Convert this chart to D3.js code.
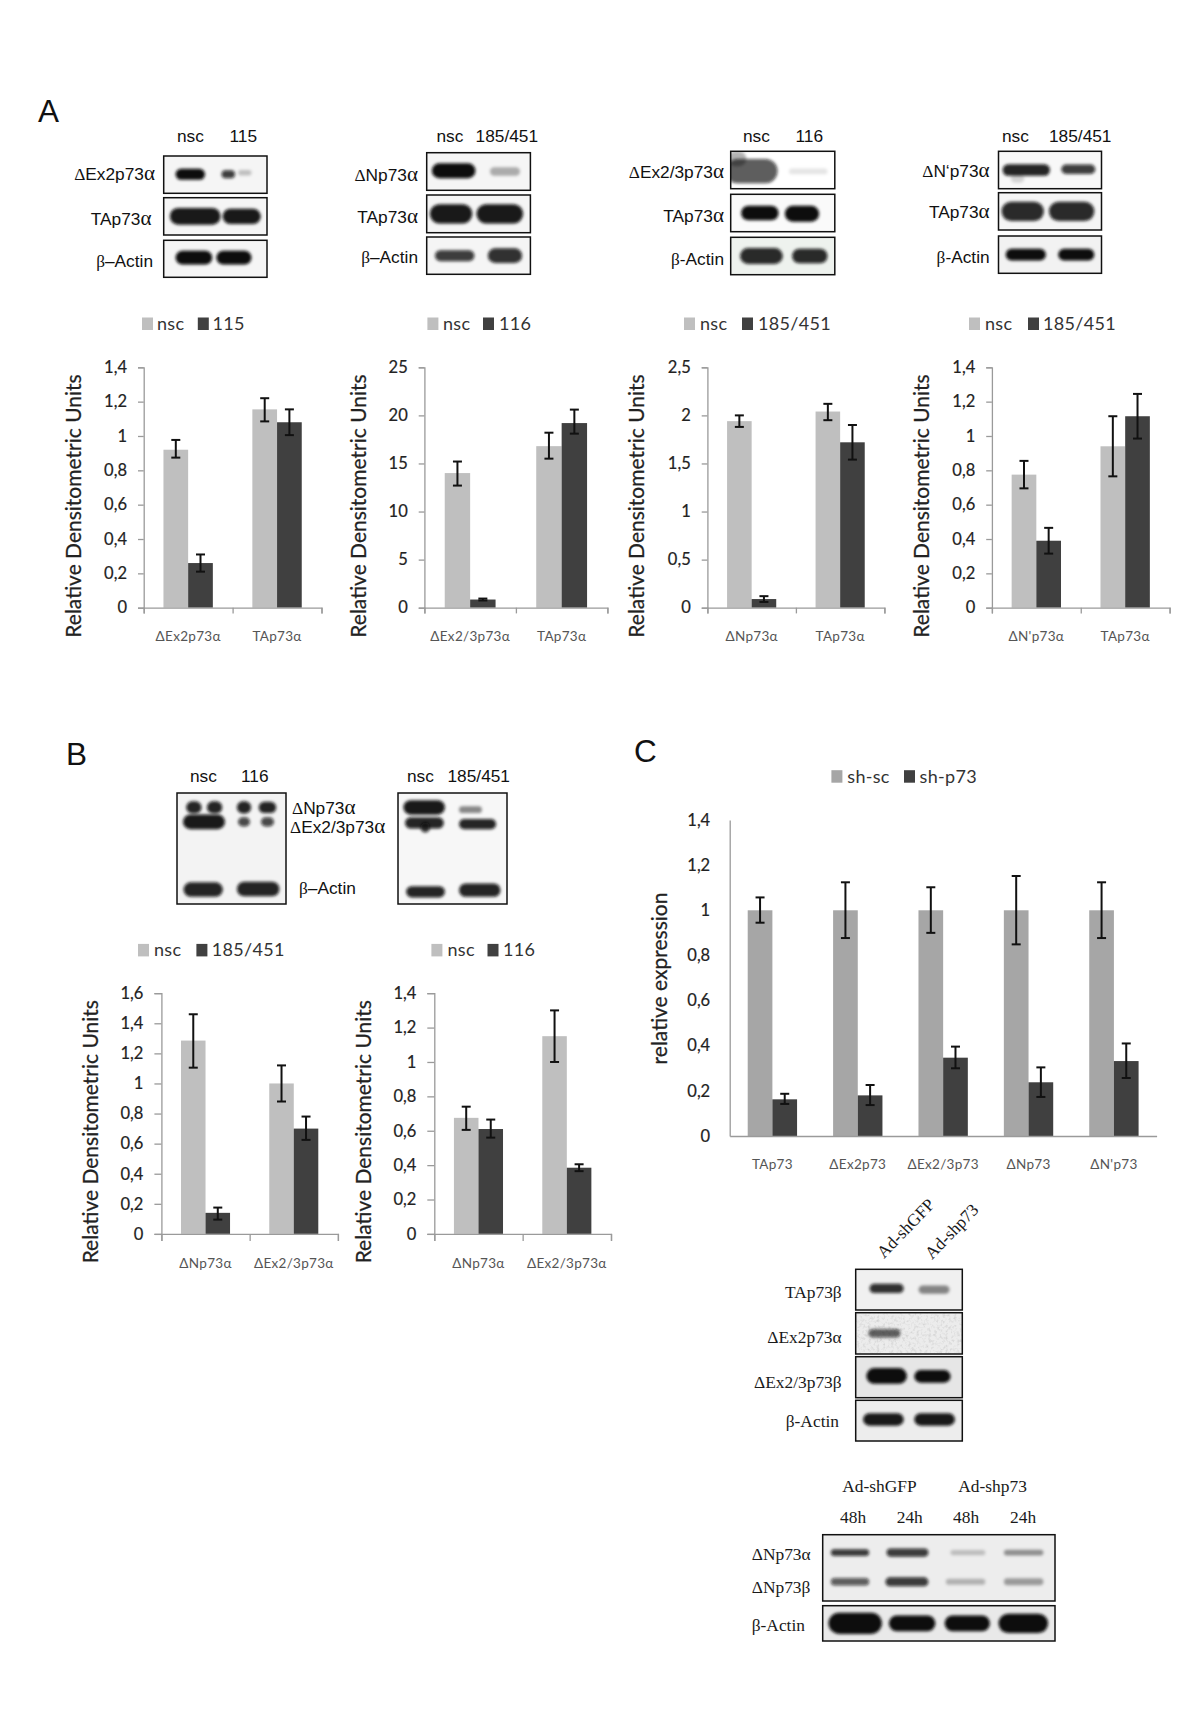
<!DOCTYPE html>
<html><head><meta charset="utf-8">
<script src="https://cdn.jsdelivr.net/npm/d3@7"></script>
<style>html,body{margin:0;padding:0;background:#fff}svg{display:block}</style>
</head><body><svg id="fig" width="1200" height="1734"></svg>
<script>
// ---------- chart data ----------
const a1Cats=["ΔEx2p73α","TAp73α"], a1Nsc=[0.92,1.155], a1Kd=[0.26,1.08];
const a1NscHi=[0.977,1.22], a1NscLo=[0.874,1.085], a1KdHi=[0.31,1.155], a1KdLo=[0.21,1.005];
const a2Cats=["ΔEx2/3p73α","TAp73α"], a2Nsc=[14,16.8], a2Kd=[0.85,19.2];
const a2NscHi=[15.2,18.2], a2NscLo=[12.7,15.5], a2KdHi=[0.95,20.6], a2KdLo=[0.75,18.1];
const a3Cats=["ΔNp73α","TAp73α"], a3Nsc=[1.94,2.04], a3Kd=[0.09,1.72];
const a3NscHi=[2.0,2.12], a3NscLo=[1.88,1.95], a3KdHi=[0.12,1.9], a3KdLo=[0.06,1.54];
const a4Cats=["ΔN'p73α","TAp73α"], a4Nsc=[0.775,0.94], a4Kd=[0.39,1.115];
const a4NscHi=[0.855,1.115], a4NscLo=[0.695,0.765], a4KdHi=[0.465,1.245], a4KdLo=[0.315,0.985];
const b1Cats=["ΔNp73α","ΔEx2/3p73α"], b1Nsc=[1.285,1.0], b1Kd=[0.14,0.70];
const b1NscHi=[1.46,1.12], b1NscLo=[1.105,0.88], b1KdHi=[0.175,0.78], b1KdLo=[0.095,0.625];
const b2Cats=["ΔNp73α","ΔEx2/3p73α"], b2Nsc=[0.675,1.15], b2Kd=[0.61,0.385];
const b2NscHi=[0.74,1.3], b2NscLo=[0.605,1.0], b2KdHi=[0.665,0.405], b2KdLo=[0.56,0.365];
const cCats=["TAp73","ΔEx2p73","ΔEx2/3p73","ΔNp73","ΔN'p73"];
const cSc=[1,1,1,1,1], cSh=[0.1625,0.18,0.347,0.238,0.332];
const cScHi=[1.057,1.124,1.102,1.152,1.124], cScLo=[0.945,0.877,0.90,0.849,0.877];
const cShHi=[0.187,0.226,0.396,0.304,0.41], cShLo=[0.142,0.137,0.30,0.173,0.257];
const ticks14=[0,0.2,0.4,0.6,0.8,1,1.2,1.4], ticks25=[0,5,10,15,20,25], ticks2p5=[0,0.5,1,1.5,2,2.5], ticks16=[0,0.2,0.4,0.6,0.8,1,1.2,1.4,1.6];

// ---------- page layout ----------
const svg=d3.select("#fig");
const LIGHT="#bfbfbf", DARK="#404040", AXIS="#9a9a9a";
const CAL="Lato, 'Open Sans', sans-serif", ARIAL="'Liberation Sans', Arial, sans-serif", TIMES="'Liberation Serif', serif";

// blur filters
const defs=svg.append("defs");
defs.append("filter").attr("id","soft").attr("x","-30%").attr("y","-120%").attr("width","160%").attr("height","340%")
  .append("feGaussianBlur").attr("stdDeviation",1.8);
const speck=defs.append("filter").attr("id","speck").attr("x",0).attr("y",0).attr("width","100%").attr("height","100%");
speck.append("feTurbulence").attr("type","fractalNoise").attr("baseFrequency",0.35).attr("numOctaves",2).attr("seed",4);
speck.append("feColorMatrix").attr("type","matrix").attr("values","0 0 0 0 0.35  0 0 0 0 0.35  0 0 0 0 0.35  1.6 0 0 0 -0.75");

// text helper: Greek letters set in a serif face as in the original labels
function label(g,txt,x,y,o={}){
  const t=g.append("text").attr("x",x).attr("y",y).attr("font-family",o.font||ARIAL).attr("font-size",o.size||17.3)
    .attr("fill",o.fill||"#111").attr("text-anchor",o.anchor||"start");
  if(o.transform)t.attr("transform",o.transform);
  if(o.greek===false){t.text(txt);return t;}
  txt.split(/([Δαβ])/).filter(s=>s).forEach(s=>{
    const ts=t.append("tspan").text(s);
    if(/[Δαβ]/.test(s))ts.attr("font-family",TIMES);
    if(!o.font&&s==="α")ts.attr("font-size","1.22em");
  });
  return t;
}

function barChart(cfg){
  const g=svg.append("g");
  const x=d3.scaleBand().domain(cfg.cats).range([cfg.x0,cfg.x1]);
  const sub=d3.scaleBand().domain(["a","b"]).range([0,x.bandwidth()]).paddingInner(0).paddingOuter(cfg.gap/2);
  const y=d3.scaleLinear().domain([0,cfg.max]).range([cfg.y0,cfg.y1]);
  const series=[
    {k:"a",v:cfg.a,hi:cfg.aHi,lo:cfg.aLo,c:cfg.light||LIGHT},
    {k:"b",v:cfg.b,hi:cfg.bHi,lo:cfg.bLo,c:DARK}];
  series.forEach(s=>{
    g.append("g").selectAll("rect").data(cfg.cats).join("rect")
      .attr("x",d=>x(d)+sub(s.k)).attr("width",sub.bandwidth())
      .attr("y",(d,i)=>y(s.v[i])).attr("height",(d,i)=>y(0)-y(s.v[i])).attr("fill",s.c);
  });
  // axes
  const ya=g.append("g").attr("transform",`translate(${cfg.x0},0)`)
    .call(d3.axisLeft(y).tickValues(cfg.ticks).tickSize(cfg.tick).tickPadding(cfg.pad).tickFormat(d=>String(d).replace(".",",")));
  ya.selectAll("path,line").attr("stroke",AXIS).attr("stroke-width",1.3);
  ya.selectAll("text").attr("font-family",CAL).attr("font-size",16.5).attr("fill","#222").attr("stroke","#222").attr("stroke-width",0.2);
  const slots=d3.scaleLinear().domain([0,cfg.cats.length]).range([cfg.x0,cfg.x1]);
  const xt=g.append("g").attr("transform",`translate(0,${cfg.y0})`)
    .call(d3.axisBottom(slots).tickValues(d3.range(cfg.cats.length+1)).tickSize(cfg.tick).tickSizeOuter(cfg.tick).tickFormat(""));
  xt.selectAll("path,line").attr("stroke",AXIS).attr("stroke-width",1.3);
  const xl=g.append("g").attr("transform",`translate(0,${cfg.labelY})`)
    .call(d3.axisBottom(x).tickSize(0).tickPadding(0));
  xl.select("path").remove();
  xl.selectAll("text").attr("font-family",CAL).attr("font-size",13.5).attr("fill","#555").attr("letter-spacing",0.3).attr("dy",0).attr("y",0);
  // error bars
  series.forEach(s=>{
    const cx=d=>x(d)+sub(s.k)+sub.bandwidth()/2;
    const eb=g.append("g").attr("stroke","#111").attr("stroke-width",2);
    eb.selectAll(".v").data(cfg.cats).join("line").attr("class","v").attr("x1",cx).attr("x2",cx).attr("y1",(d,i)=>y(s.hi[i])).attr("y2",(d,i)=>y(s.lo[i]));
    ["hi","lo"].forEach(k=>eb.selectAll("."+k).data(cfg.cats).join("line").attr("class",k)
      .attr("x1",d=>cx(d)-4.5).attr("x2",d=>cx(d)+4.5).attr("y1",(d,i)=>y(s[k][i])).attr("y2",(d,i)=>y(s[k][i])));
  });
  // title
  g.append("text").attr("transform",`translate(${cfg.titleX},${cfg.titleY}) rotate(-90)`).attr("text-anchor","middle")
    .attr("font-family",CAL).attr("font-size",cfg.titleSize||21).attr("fill","#222").attr("stroke","#222").attr("stroke-width",0.25).text(cfg.title);
  // legend
  const lg=g.append("g").attr("font-family",CAL).attr("font-size",18).attr("fill","#333");
  cfg.legend.forEach(it=>{
    lg.append("rect").attr("x",it.sx).attr("y",cfg.legY-12.5).attr("width",11).attr("height",12.5).attr("fill",it.c);
    lg.append("text").attr("x",it.tx).attr("y",cfg.legY).attr("letter-spacing",0.3).text(it.t);
  });
}

const RDU="Relative Densitometric Units";
const legend=(s1,t1,s2,t2,name,lab0,c)=>[{sx:s1,tx:t1,t:lab0||"nsc",c:c||LIGHT},{sx:s2,tx:t2,t:name,c:DARK}];
const A={y0:607.7,y1:367.3,labelY:641,legY:330,titleY:506,title:RDU,tick:5.7,pad:11,gap:1.6};
barChart({...A,cats:a1Cats,a:a1Nsc,b:a1Kd,aHi:a1NscHi,aLo:a1NscLo,bHi:a1KdHi,bLo:a1KdLo,max:1.4,ticks:ticks14,x0:143.7,x1:321.5,titleX:81,legend:legend(142,157,197.8,212.6,"115")});
barChart({...A,cats:a2Cats,a:a2Nsc,b:a2Kd,aHi:a2NscHi,aLo:a2NscLo,bHi:a2KdHi,bLo:a2KdLo,max:25,ticks:ticks25,x0:424.4,x1:607.4,titleX:366,legend:legend(427.4,443,483,499,"116")});
barChart({...A,cats:a3Cats,a:a3Nsc,b:a3Kd,aHi:a3NscHi,aLo:a3NscLo,bHi:a3KdHi,bLo:a3KdLo,max:2.5,ticks:ticks2p5,x0:707.4,x1:884.4,titleX:643.7,legend:legend(684,700,742,758,"185/451")});
barChart({...A,cats:a4Cats,a:a4Nsc,b:a4Kd,aHi:a4NscHi,aLo:a4NscLo,bHi:a4KdHi,bLo:a4KdLo,max:1.4,ticks:ticks14,x0:991.9,x1:1169.6,titleX:929,legend:legend(969,985,1028,1043,"185/451")});
const B={y0:1233.9,y1:993.2,labelY:1267.5,legY:956.4,titleY:1131.7,title:RDU,tick:7,pad:11,gap:1.6};
barChart({...B,cats:b1Cats,a:b1Nsc,b:b1Kd,aHi:b1NscHi,aLo:b1NscLo,bHi:b1KdHi,bLo:b1KdLo,max:1.6,ticks:ticks16,x0:161.4,x1:337.9,titleX:97.5,legend:legend(138,154,196.4,211.8,"185/451")});
barChart({...B,cats:b2Cats,a:b2Nsc,b:b2Kd,aHi:b2NscHi,aLo:b2NscLo,bHi:b2KdHi,bLo:b2KdLo,max:1.4,ticks:ticks14,x0:434.3,x1:611,titleX:371.4,legend:legend(431.4,447.5,487.5,503,"116")});
barChart({cats:cCats,a:cSc,b:cSh,aHi:cScHi,aLo:cScLo,bHi:cShHi,bLo:cShLo,max:1.4,ticks:ticks14,x0:729.7,x1:1156.6,y0:1136,y1:820,labelY:1169.3,
  light:"#a6a6a6",gap:1.46,tick:0,pad:19.5,legY:782.7,titleX:667.4,titleY:978.5,title:"relative expression",
  legend:legend(831.4,847.3,904,919.6,"sh-p73","sh-sc","#a6a6a6")});

// ---------- western blots ----------
// each band: lane start, lane end, vertical centre, thickness (fractions of the panel), density
const blA1a=[[.115,.40,.49,.2,1],[.56,.69,.49,.12,.8],[.72,.85,.45,.05,.22]], blA1b=[[.06,.55,.5,.36,.95],[.57,.94,.5,.32,.95]], blA1c=[[.115,.47,.47,.28,1],[.51,.85,.47,.28,1]];
const blA2a=[[.05,.47,.48,.3,1],[.61,.9,.5,.13,.3]], blA2b=[[.03,.44,.5,.42,.95],[.48,.93,.5,.42,.95]], blA2c=[[.08,.46,.5,.2,.8],[.59,.92,.5,.3,.85]];
const blA3a=[[-.05,.45,.53,.55,.68],[-.03,.15,.2,.3,.3],[.56,.93,.54,.06,.1]], blA3b=[[.1,.46,.5,.3,1],[.52,.85,.52,.33,1]], blA3c=[[.09,.5,.5,.33,.88],[.59,.93,.5,.3,.88]];
const blA4a=[[.04,.5,.5,.22,.9],[.61,.94,.48,.16,.8],[.12,.25,.72,.15,.15]], blA4b=[[.03,.44,.5,.42,.88],[.49,.93,.5,.42,.88]], blA4c=[[.07,.46,.5,.22,1],[.58,.93,.5,.22,1]];
const blB1=[[.085,.225,.13,.08,.9],[.275,.415,.13,.08,.9],[.55,.68,.13,.08,.9],[.75,.91,.13,.07,.9],[.055,.44,.26,.1,.95],[.56,.67,.26,.05,.75],[.77,.89,.26,.05,.75],[.06,.42,.87,.1,.9],[.55,.94,.865,.1,.9]];
const blB2=[[.05,.43,.13,.1,.95],[.56,.77,.15,.03,.45],[.065,.42,.27,.07,.9],[.21,.29,.31,.06,.8],[.56,.9,.28,.06,.9],[.075,.43,.89,.07,.9],[.56,.94,.875,.09,.9]];
const blC1=[[.13,.45,.47,.14,.85],[.59,.88,.5,.12,.45]], blC2=[[.12,.42,.5,.12,.65]], blC3=[[.1,.48,.47,.3,1],[.55,.89,.48,.22,1]], blC4=[[.07,.45,.47,.22,.95],[.55,.93,.47,.22,.95]];
const blD1=[[.035,.2,.27,.05,.8],[.275,.455,.27,.07,.8],[.55,.7,.27,.025,.2],[.78,.95,.27,.035,.4],[.035,.2,.71,.06,.65],[.27,.455,.71,.08,.8],[.53,.7,.71,.04,.25],[.78,.95,.71,.05,.35]];
const blD2=[[.025,.255,.5,.5,1],[.285,.485,.5,.35,1],[.525,.72,.5,.35,1],[.757,.97,.5,.45,1]];

let clipId=0;
function blot(x0,x1,y0,y1,bands,o={}){
  const id="c"+(clipId++);
  defs.append("clipPath").attr("id",id).append("rect").attr("x",x0).attr("y",y0).attr("width",x1-x0).attr("height",y1-y0);
  const g=svg.append("g");
  const lx=d3.scaleLinear().domain([0,1]).range([x0,x1]), ly=d3.scaleLinear().domain([0,1]).range([y0,y1]);
  const grow=3.5; // blur eats into a band, so it is drawn a little thicker
  const inner=g.append("g").attr("clip-path",`url(#${id})`);
  inner.append("rect").attr("x",x0).attr("y",y0).attr("width",x1-x0).attr("height",y1-y0).attr("fill",o.bg||"#f5f5f5");
  if(o.speck)inner.append("rect").attr("x",x0).attr("y",y0).attr("width",x1-x0).attr("height",y1-y0).attr("filter","url(#speck)").attr("opacity",.5);
  inner.selectAll(".b").data(bands).join("rect").attr("class","b")
    .attr("x",d=>lx(d[0])).attr("width",d=>lx(d[1])-lx(d[0]))
    .attr("y",d=>ly(d[2]-d[3]/2)-grow/2).attr("height",d=>ly(d[3])-ly(0)+grow)
    .attr("rx",d=>Math.min(lx(d[1])-lx(d[0]),ly(d[3])-ly(0)+grow)/2)
    .attr("fill","#0b0b0b").attr("fill-opacity",d=>d[4]).attr("filter","url(#soft)");
  g.append("rect").attr("x",x0).attr("y",y0).attr("width",x1-x0).attr("height",y1-y0).attr("fill","none").attr("stroke","#111").attr("stroke-width",1.5);
}
blot(163.7,267,156,193.3,blA1a); blot(163.7,267,197.7,235,blA1b); blot(163.7,267,240.3,277.3,blA1c);
blot(426.7,530.4,152.7,190.3,blA2a); blot(426.7,530.4,195,232.7,blA2b); blot(426.7,530.4,237,274.3,blA2c);
blot(730.7,834.8,151.3,188.7,blA3a,{bg:"#fff"}); blot(730.7,834.8,194.3,231.7,blA3b,{bg:"#fafafa"}); blot(730.7,834.8,237.3,274.7,blA3c,{bg:"#eef2ee"});
blot(998.5,1101.5,151.3,188.7,blA4a,{bg:"#f8f8f8"}); blot(998.5,1101.5,192.7,230,blA4b); blot(998.5,1101.5,236,273.3,blA4c,{bg:"#f2f2f2"});
blot(177,286,793,904,blB1,{bg:"#f3f3f3"}); blot(398,507,793,904,blB2,{bg:"#f7f7f7"});
blot(855.7,962.3,1269.3,1310,blC1,{bg:"#f0f0f0"}); blot(855.7,962.3,1312.7,1354,blC2,{bg:"#ececec",speck:true}); blot(855.7,962.3,1356.7,1397.7,blC3,{bg:"#e6e6e6"}); blot(855.7,962.3,1400.3,1441,blC4,{bg:"#ededed"});
blot(822.7,1055,1534.7,1601,blD1,{bg:"#ededed"}); blot(822.7,1055,1605.7,1641,blD2,{bg:"#e9e9e9"});

// blot labels
const textLayer=svg.append("g");
[["nsc",177,142.3],["115",229.5,142.3],["nsc",436.5,142.3],["185/451",475.6,142.3],["nsc",743,142.3],["116",795.5,142.3],["nsc",1002,142.3],["185/451",1049,142.3],
 ["nsc",190,781.8],["116",241,781.8],["nsc",407,781.8],["185/451",447.5,781.8]].forEach(d=>label(textLayer,d[0],d[1],d[2]));
[["ΔEx2p73α",155,180],["TAp73α",151.5,225],["β–Actin",153,267.3],
 ["ΔNp73α",418,181],["TAp73α",418,223.3],["β–Actin",418,263.3],
 ["ΔEx2/3p73α",724,178.3],["TAp73α",724,222.3],["β-Actin",724,265],
 ["ΔN‘p73α",989.6,176.7],["TAp73α",989.6,217.7],["β-Actin",989.6,263.3]].forEach(d=>label(textLayer,d[0],d[1],d[2],{anchor:"end"}));
[["ΔNp73α",292,814],["ΔEx2/3p73α",290,832.9],["β–Actin",299,894]].forEach(d=>label(textLayer,d[0],d[1],d[2]));
// panel letters
[["A",38,121.7],["B",66,764.6],["C",634,762]].forEach(d=>label(textLayer,d[0],d[1],d[2],{size:31.5,greek:false}));
// serif labels of panel C blots
const ser={font:TIMES,size:17.4,fill:"#1a1a1a"};
[["TAp73β",841.7,1297.7],["ΔEx2p73α",841.7,1343.3],["ΔEx2/3p73β",841.7,1388.3],["β-Actin",839,1427.3]].forEach(d=>label(textLayer,d[0],d[1],d[2],{...ser,anchor:"end"}));
label(textLayer,"Ad-shGFP",0,0,{...ser,transform:"translate(884,1259) rotate(-46)"});
label(textLayer,"Ad-shp73",0,0,{...ser,transform:"translate(932,1260) rotate(-46)"});
[["Ad-shGFP",842.3,1491.7],["Ad-shp73",958.3,1491.7],["48h",840,1523.3],["24h",896.7,1523.3],["48h",953,1523.3],["24h",1010,1523.3],
 ["ΔNp73α",751.7,1560],["ΔNp73β",751.7,1593.3],["β-Actin",751.7,1630.7]].forEach(d=>label(textLayer,d[0],d[1],d[2],ser));
</script></body></html>
